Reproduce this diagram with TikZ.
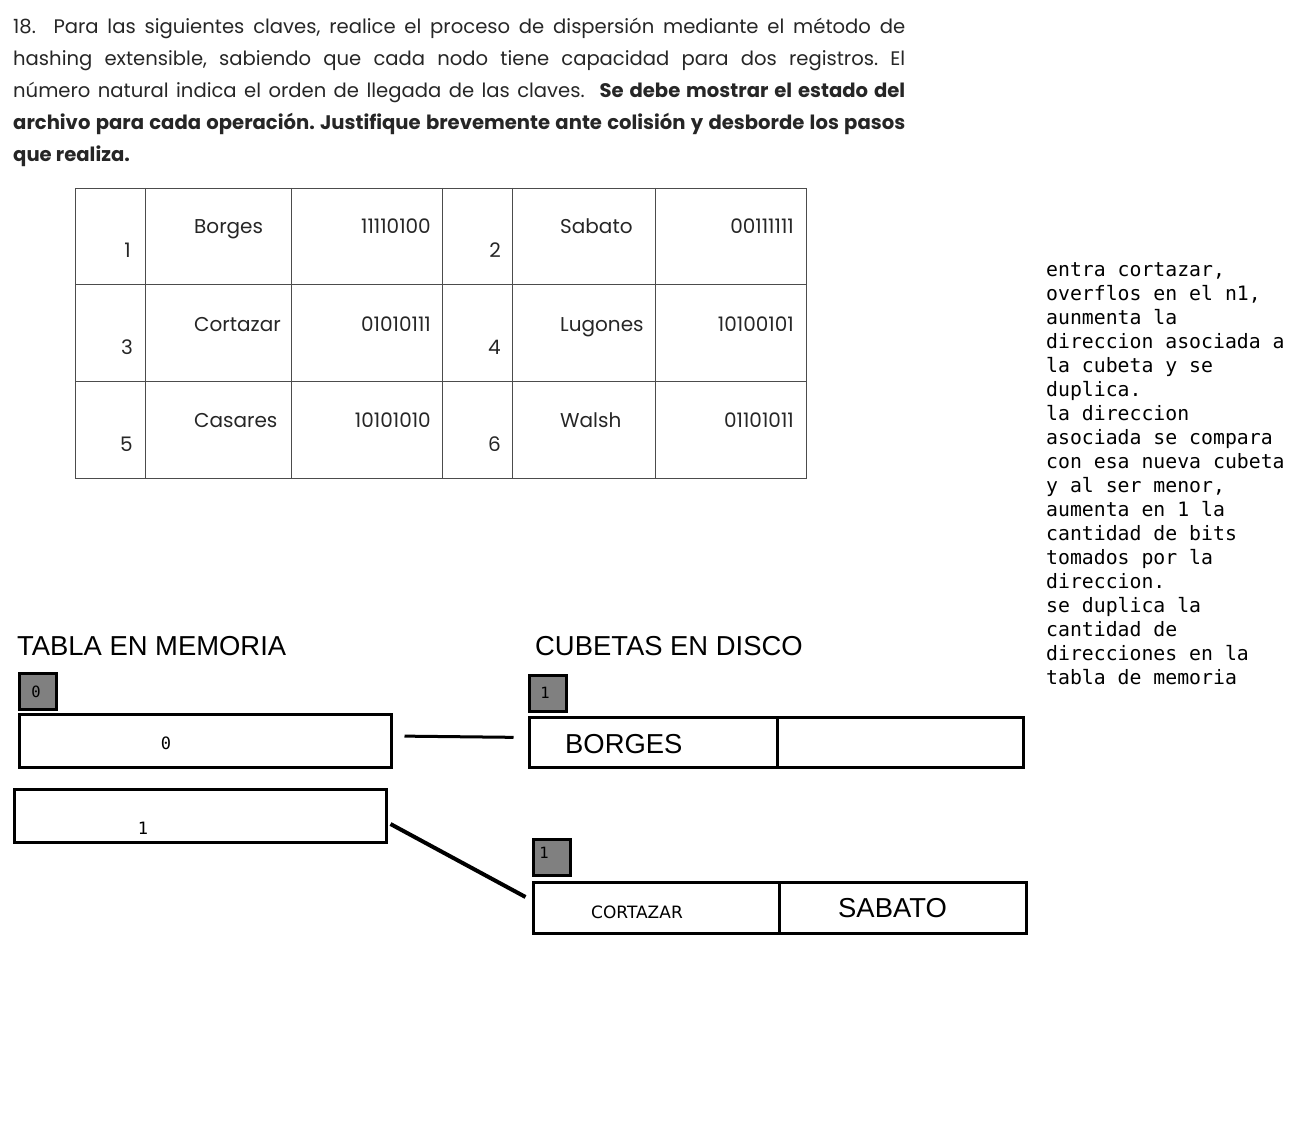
\documentclass[tikz,border=0pt]{standalone}
\usepackage{fontspec}
\setmainfont{Poppins}
\newfontfamily\monof{DejaVu Sans Mono}
\newfontfamily\arialf{Liberation Sans}
\newfontfamily\dejavuf{DejaVu Sans}
\usetikzlibrary{positioning}
\frenchspacing

\tikzset{
  gridline/.style={draw=black!70, line width=0.8pt},
  celltxt/.style={inner sep=0pt, font=\fontsize{20}{24}\selectfont, text=black!85},
  memslot/.style={draw, line width=3pt, minimum width=372pt, minimum height=53pt, inner sep=0pt},
  depthbox/.style={draw, fill=black!50, line width=3pt, minimum width=37pt, minimum height=36pt, inner sep=0pt},
  bucketcell/.style={draw, line width=3pt, minimum height=51pt, inner sep=0pt},
  smallmono/.style={inner sep=0pt, font=\monof\fontsize{15.5}{18}\selectfont},
  slotmono/.style={inner sep=0pt, font=\monof\fontsize{17}{18}\selectfont},
  heading/.style={inner sep=0pt, anchor=base west, font=\arialf\fontsize{27.4}{30}\selectfont},
  link/.style={line width=3pt}
}

\begin{document}
\begin{tikzpicture}[x=1pt, y=-1pt]
  \useasboundingbox (0,0) rectangle (1304,1142);

  % enunciado
  \node[anchor=north west, inner sep=0pt, text width=892pt, align=justify,
        font=\fontsize{19.6}{32}\selectfont, text=black!85] (enunciado) at (13,18)
  {18.\ \ Para las siguientes claves, realice el proceso de dispersión mediante el método de\linebreak
   hashing extensible, sabiendo que cada nodo tiene capacidad para dos registros. El\linebreak
   número natural indica el orden de llegada de las claves.\ \ \textbf{Se debe mostrar el estado del\linebreak
   archivo para cada operación. Justifique brevemente ante colisión y desborde los pasos\linebreak
   que realiza.}};

  % tabla de claves
  \draw[gridline] (75,188) rectangle (806,478);
  \foreach \x in {145,291,442,512,655}
    \draw[gridline] (\x,188) -- (\x,478);
  \foreach \y in {284,381}
    \draw[gridline] (75,\y) -- (806,\y);

  \node[celltxt, anchor=base east] (n1) at (131,258) {1};
  \node[celltxt, anchor=base west] (k1) at (194,234) {Borges};
  \node[celltxt, anchor=base east] (b1) at (431,234) {11110100};
  \node[celltxt, anchor=base east] (n2) at (501,258) {2};
  \node[celltxt, anchor=base west] (k2) at (560,234) {Sabato};
  \node[celltxt, anchor=base east] (b2) at (794,234) {00111111};

  \node[celltxt, anchor=base east] (n3) at (133,354) {3};
  \node[celltxt, anchor=base west] (k3) at (194,331) {Cortazar};
  \node[celltxt, anchor=base east] (b3) at (431,331) {01010111};
  \node[celltxt, anchor=base east] (n4) at (501,354) {4};
  \node[celltxt, anchor=base west] (k4) at (560,331) {Lugones};
  \node[celltxt, anchor=base east] (b4) at (794,331) {10100101};

  \node[celltxt, anchor=base east] (n5) at (133,451) {5};
  \node[celltxt, anchor=base west] (k5) at (194,427) {Casares};
  \node[celltxt, anchor=base east] (b5) at (431,427) {10101010};
  \node[celltxt, anchor=base east] (n6) at (501,451) {6};
  \node[celltxt, anchor=base west] (k6) at (560,427) {Walsh};
  \node[celltxt, anchor=base east] (b6) at (794,427) {01101011};

  % justificacion
  \node[anchor=north west, inner sep=0pt, align=left,
        font=\monof\fontsize{19.8}{24}\selectfont] (nota) at (1046,262)
  {entra cortazar,\\
   overflos en el n1,\\
   aunmenta la\\
   direccion asociada a\\
   la cubeta y se\\
   duplica.\\
   la direccion\\
   asociada se compara\\
   con esa nueva cubeta\\
   y al ser menor,\\
   aumenta en 1 la\\
   cantidad de bits\\
   tomados por la\\
   direccion.\\
   se duplica la\\
   cantidad de\\
   direcciones en la\\
   tabla de memoria};

  % tabla en memoria
  \node[heading] (tmem) at (17,655) {TABLA EN MEMORIA};
  \node[depthbox] (dmem) at (38,691.5) {};
  \node[smallmono] at (36,692) {0};
  \node[memslot] (mem0) at (205.5,741) {};
  \node[slotmono] at (166,743) {0};
  \node[memslot] (mem1) at (200.5,816) {};
  \node[slotmono] at (143,828) {1};

  % cubetas en disco
  \node[heading] (tdisco) at (535,655) {CUBETAS EN DISCO};
  \node[depthbox] (dc1) at (548,693) {};
  \node[smallmono] at (545,693) {1};
  \node[bucketcell, minimum width=247.5pt, minimum height=50pt] (c1a) at (653.25,742.5) {};
  \node[bucketcell, minimum width=246.5pt, minimum height=50pt] (c1b) at (900.25,742.5) {};
  \node[heading] at (565,753) {BORGES};

  \node[depthbox] (dc2) at (552,857.5) {};
  \node[smallmono] at (544,853) {1};
  \node[bucketcell, minimum width=245.5pt] (c2a) at (656.25,908) {};
  \node[bucketcell, minimum width=247.5pt] (c2b) at (902.75,908) {};
  \node[inner sep=0pt, anchor=base west, font=\dejavuf\fontsize{17}{20}\selectfont] at (591,918) {CORTAZAR};
  \node[heading] at (838,917) {SABATO};

  % punteros
  \draw[link, shorten <=11.5pt, shorten >=14.5pt] ([yshift=5pt]mem0.east) -- ([yshift=5pt]c1a.west);
  \draw[line width=4pt] ([shift={(2.5,8)}]mem1.east) -- ([shift={(-6.5,-11)}]c2a.west);
\end{tikzpicture}
\end{document}
